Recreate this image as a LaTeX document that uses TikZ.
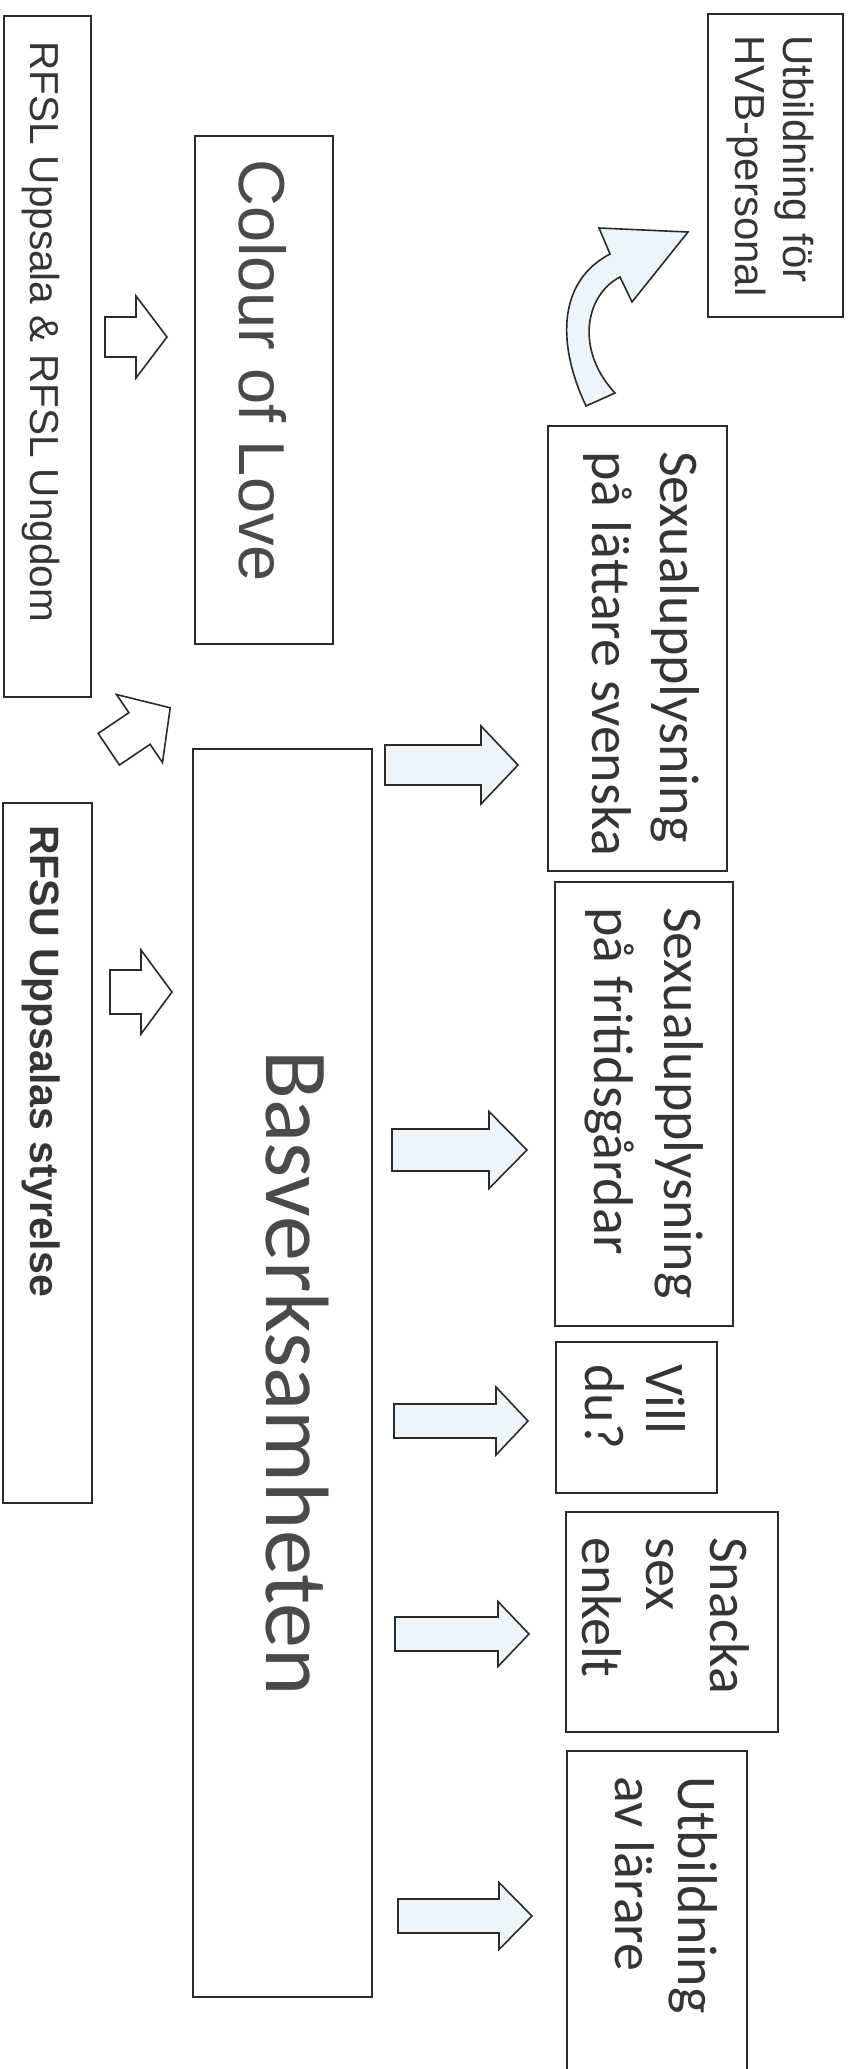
\documentclass[tikz,border=0pt]{standalone}
\usepackage{fontspec}
\newfontfamily\arialf{Liberation Sans}
\newfontfamily\calf{Carlito}
\definecolor{boxc}{HTML}{2A2A2A}
\definecolor{txtc}{HTML}{353535}
\definecolor{greytxt}{HTML}{4A4A4A}
\definecolor{arrfill}{HTML}{EEF5FA}
\newcommand\hbarrow[7]{%
  \draw[#1] (#2,#5-#6) -- (#3,#5-#6) -- (#3,#5-#7) -- (#4,#5) -- (#3,#5+#7) -- (#3,#5+#6) -- (#2,#5+#6) -- cycle;}
\tikzset{
  box/.style={draw=boxc, line width=2pt, rectangle, inner sep=0pt, fill=white},
  txt/.style={rotate=-90, anchor=base west, inner sep=0pt, text=txtc},
  arialtxt/.style={txt, font=\arialf\fontsize{40.5}{46}\selectfont},
  hvbtxt/.style={txt, font=\arialf\fontsize{42}{48}\selectfont},
  caltxt/.style={txt, font=\calf\fontsize{56}{66}\selectfont},
  barrow/.style={draw=boxc, line width=1.6pt, line join=miter, fill=white},
  barrowb/.style={barrow, fill=arrfill},
}
\begin{document}
\begin{tikzpicture}[x=1pt,y=-1pt]
\useasboundingbox (0,0) rectangle (853,2069);
\fill[white] (0,0) rectangle (853,2069);

% boxes
\node[box, minimum width=87,  minimum height=681] (rfsl)  at (47.5,356.5) {};
\node[box, minimum width=138, minimum height=508] (colour) at (264,390) {};
\node[box, minimum width=135, minimum height=303] (hvb)   at (775.5,165.5) {};
\node[box, minimum width=179, minimum height=445] (latt)  at (637.5,648.5) {};
\node[box, minimum width=179, minimum height=1248] (basv) at (282.5,1373) {};
\node[box, minimum width=89,  minimum height=700] (rfsu)  at (47.5,1153) {};
\node[box, minimum width=178, minimum height=444] (frit)  at (644,1104) {};
\node[box, minimum width=161, minimum height=151] (vill)  at (636.5,1417.5) {};
\node[box, minimum width=212, minimum height=220] (snack) at (672,1622) {};
\node[box, minimum width=180, minimum height=349] (utb)   at (657,1925.5) {};

% texts
\node[arialtxt] (trfsl) at (30,41) {RFSL Uppsala \& RFSL Ungdom};
\node[arialtxt, font=\arialf\bfseries\fontsize{41}{46}\selectfont] (trfsu) at (30,825) {RFSU Uppsalas styrelse};
\node[txt, text=greytxt, font=\arialf\fontsize{65}{70}\selectfont] (tcol) at (239,159) {Colour of Love};
\node[txt, anchor=base, text=greytxt, font=\calf\fontsize{90}{100}\selectfont] (tbasv) at (266,1373) {Basverksamheten};
\node[hvbtxt] (thvb1) at (783,35) {Utbildning för};
\node[hvbtxt] (thvb2) at (735,35) {HVB-personal};
\node[caltxt] (tlatt1) at (660,451) {Sexualupplysning};
\node[caltxt] (tlatt2) at (592,451) {på lättare svenska};
\node[caltxt] (tfrit1) at (664,907) {Sexualupplysning};
\node[caltxt] (tfrit2) at (594,907) {på fritidsgårdar};
\node[caltxt] (tvill1) at (646,1364) {Vill};
\node[caltxt] (tvill2) at (585,1364) {du?};
\node[caltxt] (tsn1) at (710,1537) {Snacka};
\node[caltxt] (tsn2) at (646,1537) {sex};
\node[caltxt] (tsn3) at (582,1537) {enkelt};
\node[caltxt] (tutb1) at (678,1776) {Utbildning};
\node[caltxt] (tutb2) at (615,1776) {av lärare};

% block arrows from the left column
\hbarrow{barrow}{105}{136}{167}{337}{20}{41}
\draw[barrow] (98.2,733.4) -- (128.9,712.7) -- (116.5,694.5) -- (170.2,707.8)
  -- (162.5,762.5) -- (150.1,744.3) -- (119.4,765) -- cycle;
\hbarrow{barrow}{110}{141}{172}{992}{22}{42}

% block arrows from Basverksamheten
\hbarrow{barrowb}{385}{481}{518}{765}{20}{39}
\hbarrow{barrowb}{392}{489}{527}{1150}{21}{38.5}
\hbarrow{barrowb}{394}{496}{528}{1421}{17}{34}
\hbarrow{barrowb}{395}{498}{529}{1634}{17}{32.5}
\hbarrow{barrowb}{398}{499}{532}{1916}{17}{33.5}

% curved arrow to HVB
\draw[barrowb] (586,406) .. controls (555,340) and (560,280) .. (610,254)
  -- (599,228) -- (688,232) -- (632,302) -- (620,277)
  .. controls (585,295) and (575,350) .. (615,393) -- cycle;
\end{tikzpicture}
\end{document}
